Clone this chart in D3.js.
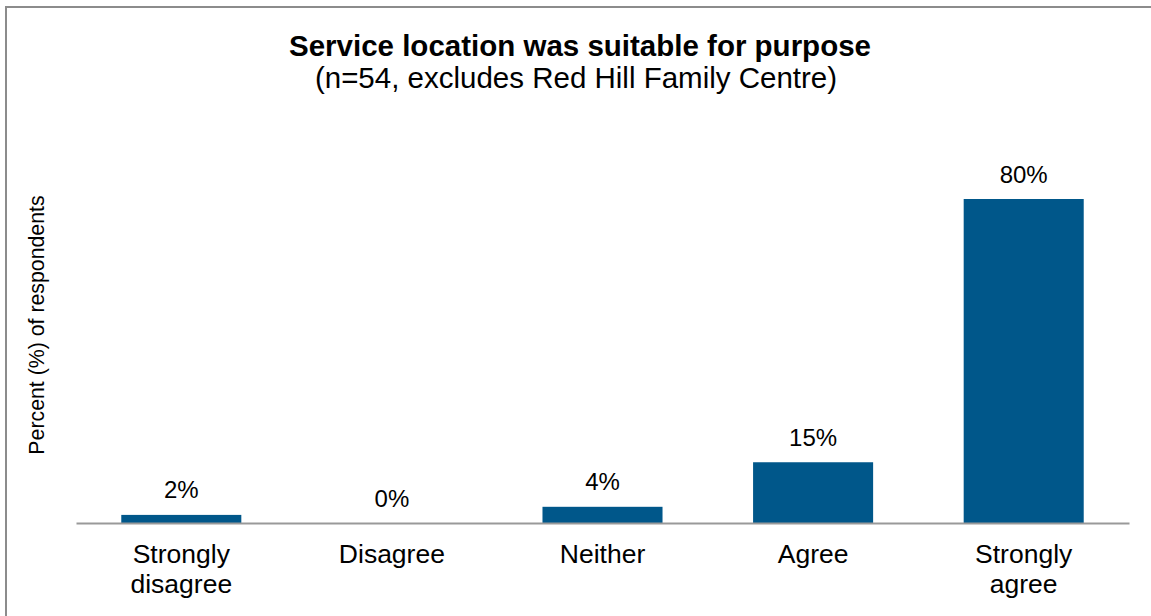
<!DOCTYPE html>
<html>
<head>
<meta charset="utf-8">
<script src="https://cdn.jsdelivr.net/npm/d3@7"></script>
<style>
  html, body { margin: 0; padding: 0; background: #fff; }
  svg { display: block; }
  text { font-family: "Liberation Sans", Arial, sans-serif; fill: #000; }
</style>
</head>
<body>
<svg id="chart" width="1151" height="616"></svg>
<script>
// Survey response categories (two-line labels)
const categories = ["Strongly disagree", "Disagree", "Neither", "Agree", "Strongly agree"];
const categoryLines = [["Strongly", "disagree"], ["Disagree"], ["Neither"], ["Agree"], ["Strongly", "agree"]];
// Percent of respondents per category
const percents = [2, 0, 4, 15, 80];

const title = "Service location was suitable for purpose";
const subtitle = "(n=54, excludes Red Hill Family Centre)";
const yTitle = "Percent (%) of respondents";

const svg = d3.select("#chart");
const W = 1151, H = 616;

// outer frame
svg.append("rect")
  .attr("x", 6).attr("y", 7)
  .attr("width", W + 20).attr("height", H + 20)
  .attr("fill", "#fff")
  .attr("stroke", "#8c8c8c")
  .attr("stroke-width", 2);

const left = 76, right = 1129, baseY = 523, topY = 118;

const x = d3.scaleBand()
  .domain(categories)
  .range([left, right])
  .paddingInner(0.43)
  .paddingOuter(0.215);

const y = d3.scaleLinear()
  .domain([0, 100])
  .range([baseY, topY]);

// titles
svg.append("text")
  .attr("x", 580).attr("y", 56)
  .attr("text-anchor", "middle")
  .attr("font-size", 29.5)
  .attr("font-weight", "bold")
  .text(title);

svg.append("text")
  .attr("x", 576).attr("y", 88)
  .attr("text-anchor", "middle")
  .attr("font-size", 29.5)
  .text(subtitle);

// y-axis title
svg.append("text")
  .attr("transform", `translate(44,325) rotate(-90)`)
  .attr("text-anchor", "middle")
  .attr("font-size", 21.3)
  .text(yTitle);

// bars
svg.append("g").selectAll("rect")
  .data(percents)
  .join("rect")
  .attr("x", (d, i) => x(categories[i]))
  .attr("y", d => y(d))
  .attr("width", x.bandwidth())
  .attr("height", d => y(0) - y(d))
  .attr("fill", "#00578A");

// value labels
svg.append("g").selectAll("text")
  .data(percents)
  .join("text")
  .attr("x", (d, i) => x(categories[i]) + x.bandwidth() / 2)
  .attr("y", d => y(d) - 16.5)
  .attr("text-anchor", "middle")
  .attr("font-size", 24)
  .text(d => d + "%");

// category axis
const xAxis = svg.append("g")
  .attr("transform", `translate(0,${baseY})`)
  .call(d3.axisBottom(x).tickSize(0).tickFormat(""));
xAxis.select(".domain")
  .attr("stroke", "#999")
  .attr("stroke-width", 2);

const catLabels = svg.append("g").selectAll("text")
  .data(categories)
  .join("text")
  .attr("x", d => x(d) + x.bandwidth() / 2)
  .attr("y", 563)
  .attr("text-anchor", "middle")
  .attr("font-size", 26.5);
catLabels.each(function(d, i) {
  d3.select(this).selectAll("tspan")
    .data(categoryLines[i])
    .join("tspan")
    .attr("x", x(d) + x.bandwidth() / 2)
    .attr("dy", (t, j) => j === 0 ? 0 : 30)
    .text(t => t);
});
</script>
</body>
</html>
